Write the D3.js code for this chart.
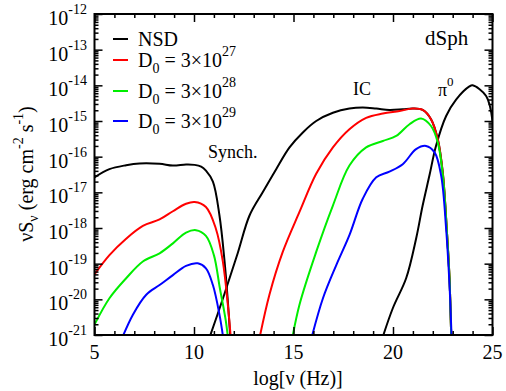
<!DOCTYPE html>
<html><head><meta charset="utf-8">
<script src="https://cdn.jsdelivr.net/npm/d3@7"></script>
<style>
html,body{margin:0;padding:0;background:#fff;}
svg{display:block;}
</style></head>
<body><svg id="c" width="506" height="391"></svg>
<script>
// ---- data: [log10(nu/Hz), log10(nuS_nu / erg cm^-2 s^-1)] ----
const nsdSynch = [[5,-16.58],[5.75,-16.35],[6.59,-16.24],[7.26,-16.19],[8.27,-16.2],[8.94,-16.25],[9.6,-16.22],[10.03,-16.23],[10.36,-16.28],[10.6,-16.39],[10.95,-16.7],[11.28,-17.65],[11.53,-18.9],[11.7,-20.05],[11.85,-21.3]];
const nsdIC = [[10.7,-21.2],[11.5,-19.9],[12.2,-18.7],[12.79,-17.65],[13.46,-16.99],[14.13,-16.35],[14.8,-15.74],[15.47,-15.32],[16.14,-15.0],[16.98,-14.77],[17.81,-14.65],[18.48,-14.62],[19.16,-14.65],[19.82,-14.69],[20.49,-14.67],[21.0,-14.65],[21.49,-14.69],[21.91,-14.95],[22.25,-15.51],[22.5,-16.44],[22.7,-18.02],[22.84,-19.41],[22.92,-20.9],[22.95,-21.3]];
const nsdPi0 = [[19.4,-21.2],[19.99,-20.25],[20.66,-19.41],[21.16,-18.3],[21.49,-17.37],[21.83,-16.53],[22.16,-15.70],[22.67,-14.86],[23.17,-14.40],[23.84,-14.03],[24.0,-14.0],[24.68,-14.30],[25.0,-15.0]];
const d27Synch = [[5,-19.3],[5.75,-18.76],[6.59,-18.3],[7.43,-17.94],[8.27,-17.76],[8.94,-17.53],[9.6,-17.32],[10.03,-17.27],[10.6,-17.41],[11.1,-18.02],[11.45,-18.94],[11.7,-20.15],[11.88,-21.3]];
const d27IC = [[13.25,-21.2],[13.79,-19.87],[14.46,-18.67],[15.3,-17.55],[16.14,-16.48],[16.98,-15.74],[17.81,-15.23],[18.65,-14.91],[19.49,-14.79],[20.33,-14.72],[21.0,-14.65],[21.49,-14.69],[21.91,-14.95],[22.25,-15.51],[22.5,-16.44],[22.7,-18.02],[22.84,-19.41],[22.92,-20.9],[22.95,-21.3]];
const d28Synch = [[5,-20.71],[5.75,-19.97],[6.59,-19.41],[7.43,-18.94],[8.27,-18.71],[8.94,-18.43],[9.6,-18.13],[10.1,-18.06],[10.6,-18.22],[11.0,-18.76],[11.3,-19.69],[11.6,-20.61],[11.75,-21.3]];
const d28IC = [[14.9,-21.2],[15.3,-20.15],[16.14,-18.67],[16.98,-17.37],[17.81,-16.25],[18.65,-15.74],[19.49,-15.56],[20.16,-15.42],[20.83,-15.09],[21.41,-14.93],[21.91,-15.14],[22.25,-15.6],[22.5,-16.5],[22.7,-18.02],[22.84,-19.41],[22.92,-20.9],[22.95,-21.3]];
const d29Synch = [[6.3,-21.2],[6.93,-20.43],[7.6,-19.87],[8.27,-19.6],[8.94,-19.32],[9.6,-19.06],[10.19,-18.99],[10.6,-19.13],[10.95,-19.6],[11.28,-20.43],[11.5,-21.2]];
const d29IC = [[15.85,-21.2],[16.48,-19.97],[17.15,-19.04],[17.81,-18.2],[18.48,-17.18],[19.16,-16.58],[19.82,-16.42],[20.49,-16.21],[21.16,-15.79],[21.66,-15.70],[22.09,-15.88],[22.42,-16.53],[22.67,-18.02],[22.84,-19.6],[22.94,-21.0],[22.96,-21.3]];

const seriesNames = ["NSD","D0 = 3×10^27","D0 = 3×10^28","D0 = 3×10^29"];
const seriesColors = ["#000000","#ff0000","#00ee00","#0000ff"];
const seriesData = [[nsdSynch,nsdIC,nsdPi0],[d27Synch,d27IC],[d28Synch,d28IC],[d29Synch,d29IC]];
const legendExps = [null,"27","28","29"];

const xMajor = [5,10,15,20,25];
const xMinor = [6,7,8,9,11,12,13,14,16,17,18,19,21,22,23,24];
const yExps = [-12,-13,-14,-15,-16,-17,-18,-19,-20,-21];

// ---- layout ----
const FONT = "'Liberation Serif', 'Times New Roman', serif";
const L=94.5, R=492.5, T=14, B=335;
const svg = d3.select("#c");
const x = d3.scaleLinear().domain([5,25]).range([L,R]);
const y = d3.scaleLog().domain([1e-21,1e-12]).range([B,T]);

const yMinor = [];
yExps.slice(1).forEach(e=>{for(let k=2;k<=9;k++) yMinor.push(k*Math.pow(10,e));});
const yMajorVals = yExps.map(e=>Math.pow(10,e));

svg.append("defs").append("clipPath").attr("id","clip")
  .append("rect").attr("x",L).attr("y",T).attr("width",R-L).attr("height",B-T);

// curves
const line = d3.line().x(d=>x(d[0])).y(d=>y(Math.pow(10,d[1]))).curve(d3.curveCatmullRom.alpha(0.5));
const g = svg.append("g").attr("clip-path","url(#clip)");
seriesData.forEach((segs,i)=>{
  segs.forEach(s=>{
    g.append("path").attr("d",line(s)).attr("fill","none")
      .attr("stroke",seriesColors[i]).attr("stroke-width",2).attr("stroke-linejoin","round");
  });
});

// axes (inward ticks)
function styleAxis(sel){sel.select(".domain").remove(); sel.selectAll("line").attr("stroke","#000").attr("stroke-width",1.5); sel.selectAll("text").remove();}
svg.append("g").attr("transform",`translate(${L},0)`).call(d3.axisLeft(y).tickValues(yMinor).tickSize(-4)).call(styleAxis);
svg.append("g").attr("transform",`translate(${L},0)`).call(d3.axisLeft(y).tickValues(yMajorVals).tickSize(-8)).call(styleAxis);
svg.append("g").attr("transform",`translate(${R},0)`).call(d3.axisRight(y).tickValues(yMinor).tickSize(-4)).call(styleAxis);
svg.append("g").attr("transform",`translate(${R},0)`).call(d3.axisRight(y).tickValues(yMajorVals).tickSize(-8)).call(styleAxis);
svg.append("g").attr("transform",`translate(0,${B})`).call(d3.axisBottom(x).tickValues(xMinor).tickSize(-4)).call(styleAxis);
svg.append("g").attr("transform",`translate(0,${B})`).call(d3.axisBottom(x).tickValues(xMajor).tickSize(-8)).call(styleAxis);
svg.append("g").attr("transform",`translate(0,${T})`).call(d3.axisTop(x).tickValues(xMinor).tickSize(-4)).call(styleAxis);
svg.append("g").attr("transform",`translate(0,${T})`).call(d3.axisTop(x).tickValues(xMajor).tickSize(-8)).call(styleAxis);

svg.append("rect").attr("x",L).attr("y",T).attr("width",R-L).attr("height",B-T)
  .attr("fill","none").attr("stroke","#000").attr("stroke-width",2);

function txt(){ return svg.append("text").style("font-family",FONT).attr("fill","#000"); }

// tick labels
yExps.forEach(e=>{
  const t = txt().attr("x",87).attr("y",y(Math.pow(10,e))+11)
    .attr("text-anchor","end").attr("font-size",20);
  t.append("tspan").text("10");
  t.append("tspan").attr("font-size",14).attr("dy",-11).text(String(e));
});
xMajor.forEach(v=>{
  txt().attr("x",x(v)).attr("y",359).attr("text-anchor","middle")
    .attr("font-size",20).text(v);
});

// axis titles
txt().attr("x",298).attr("y",385).attr("text-anchor","middle").attr("font-size",20).text("log[ν (Hz)]");
const yl = txt().attr("transform","translate(33,174) rotate(-90)").attr("text-anchor","middle").attr("font-size",20);
yl.append("tspan").text("νS");
yl.append("tspan").attr("font-size",14).attr("dy",5).text("ν");
yl.append("tspan").attr("dy",-5).text(" (erg cm");
yl.append("tspan").attr("font-size",14).attr("dy",-10).text("-2");
yl.append("tspan").attr("dy",10).text(" s");
yl.append("tspan").attr("font-size",14).attr("dy",-10).text("-1");
yl.append("tspan").attr("dy",10).text(")");

// legend
const legY = [39,60,91,121];
seriesNames.forEach((n,i)=>{
  svg.append("line").attr("x1",113).attr("x2",128).attr("y1",legY[i]).attr("y2",legY[i])
    .attr("stroke",seriesColors[i]).attr("stroke-width",2);
  const t = txt().attr("x",138).attr("y",legY[i]+6.5).attr("font-size",20);
  if(i===0){ t.text(n); }
  else {
    t.append("tspan").text("D");
    t.append("tspan").attr("font-size",14).attr("dy",6).text("0");
    t.append("tspan").attr("dy",-6).text(" = 3×10");
    t.append("tspan").attr("font-size",14).attr("dy",-11).text(legendExps[i]);
  }
});

// annotations
txt().attr("x",425).attr("y",45).attr("font-size",21).text("dSph");
txt().attr("x",353).attr("y",95).attr("font-size",18).text("IC");
const pi = txt().attr("x",438).attr("y",96).attr("font-size",18);
pi.append("tspan").text("π");
pi.append("tspan").attr("font-size",13).attr("dy",-10).text("0");
txt().attr("x",208).attr("y",158).attr("font-size",18).text("Synch.");
</script></body></html>
